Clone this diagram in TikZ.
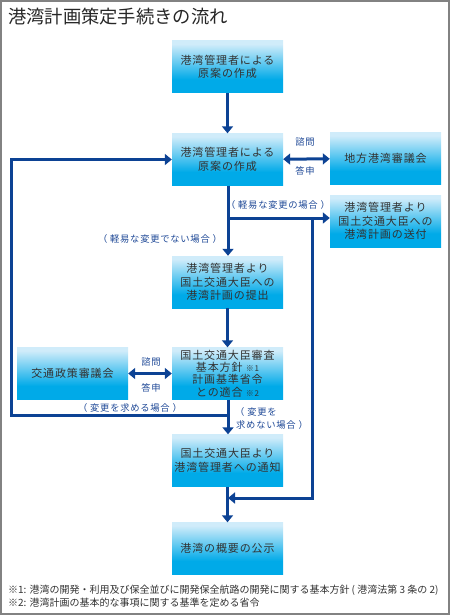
\documentclass[tikz,border=0pt]{standalone}
\usepackage{fontspec}
\setmainfont{Noto Sans CJK JP}
\newfontfamily\jp{Noto Sans CJK JP}
\newfontfamily\jpsp[LetterSpace=8]{Noto Sans CJK JP}
\usetikzlibrary{arrows.meta}
\definecolor{blight}{RGB}{208,236,250}
\definecolor{bsat}{RGB}{0,170,232}
\definecolor{lineblue}{RGB}{12,66,148}
\definecolor{lblblue}{RGB}{30,72,150}
\definecolor{txtgray}{RGB}{50,50,50}
\definecolor{frame}{RGB}{130,130,130}
\pgfdeclareverticalshading{boxshade}{100bp}{color(0bp)=(bsat); color(25bp)=(bsat); color(38bp)=(bsat); color(72bp)=(blight); color(100bp)=(blight)}
\begin{document}
\begin{tikzpicture}[x=1pt,y=-1pt,
  flowbox/.style={shading=boxshade, minimum width=111pt, minimum height=52pt, inner sep=0pt, align=center, text=txtgray, font=\jpsp\fontsize{11}{13.5}\selectfont},
  arr/.style={draw=lineblue, line width=3pt, -{Triangle[width=11pt,length=7pt]}},
  darr/.style={draw=lineblue, line width=3pt, {Triangle[width=11pt,length=7pt]}-{Triangle[width=11pt,length=7pt]}},
  lbl/.style={text=lblblue, font=\jpsp\fontsize{9.3}{12}\selectfont, inner sep=0pt},
  note/.style={text=txtgray, font=\jp\fontsize{10}{12}\selectfont, inner sep=0pt, anchor=west}
]
\useasboundingbox (0,0) rectangle (450,615);
\draw[frame, line width=2pt] (1,1) rectangle (449,614);
\node[anchor=west, inner sep=0pt, text=black!85, font=\jp\fontsize{18.3}{20}\selectfont] (title) at (8,17) {港湾計画策定手続きの流れ};

\node[flowbox] (b1) at (227.5,67) {港湾管理者による\\原案の作成};
\node[flowbox] (b2) at (227.5,159.5) {港湾管理者による\\原案の作成};
\node[flowbox] (chiho) at (385.5,158.5) {地方港湾審議会};
\node[flowbox] (soufu) at (385.5,221) {港湾管理者より\\国土交通大臣への\\港湾計画の送付};
\node[flowbox] (b3) at (227.5,282) {港湾管理者より\\国土交通大臣への\\港湾計画の提出};
\node[flowbox, font=\jpsp\fontsize{11}{12.4}\selectfont] (b4) at (227.5,373.5) {国土交通大臣審査\\基本方針 {\fontsize{8}{10}\selectfont ※1}\\計画基準省令\\との適合 {\fontsize{8}{10}\selectfont ※2}};
\node[flowbox] (kotsu) at (72.5,373.5) {交通政策審議会};
\node[flowbox] (b5) at (227.5,460.5) {国土交通大臣より\\港湾管理者への通知};
\node[flowbox] (b6) at (227.5,548.5) {港湾の概要の公示};

\coordinate (j1) at (228,218);
\coordinate (j2) at (312,218);
\coordinate (j3) at (228,498);
\coordinate (j4) at (228,415);
\coordinate (lp) at (11,415);

\draw[arr] (b1) -- (b2);
\draw[darr] (b2) -- (chiho);
\draw[arr] (b2.south -| j1) -- (b3.north -| j1);
\draw[arr] (j1) -- (j1 -| soufu.west);
\draw[arr] (j2) |- (j3);
\draw[arr] (b3) -- (b4);
\draw[darr] (kotsu) -- (b4);
\draw[arr] (b4.south -| j4) -- (b5.north -| j4);
\draw[arr] (j4) -- (lp) |- (b2.west);
\draw[arr] (b5) -- (b6);

\node[lbl] (l1) at (305,142) {諮問};
\node[lbl] (l2) at (305,171) {答申};
\node[lbl] (l3) at (278,205) {（ 軽易な変更の場合 ）};
\node[lbl] (l4) at (160,239) {（ 軽易な変更でない場合 ）};
\node[lbl] (l5) at (151,362) {諮問};
\node[lbl] (l6) at (151,388) {答申};
\node[lbl] (l7) at (130,408) {（ 変更を求める場合 ）};
\node[lbl, anchor=west] (l8) at (235,412) {（ 変更を};
\node[lbl, anchor=west] (l9) at (236,424.5) {求めない場合 ）};

\node[note] (n1) at (8,590) {※1: 港湾の開発・利用及び保全並びに開発保全航路の開発に関する基本方針 ( 港湾法第 3 条の 2)};
\node[note] (n2) at (8,603) {※2: 港湾計画の基本的な事項に関する基準を定める省令};
\end{tikzpicture}
\end{document}
